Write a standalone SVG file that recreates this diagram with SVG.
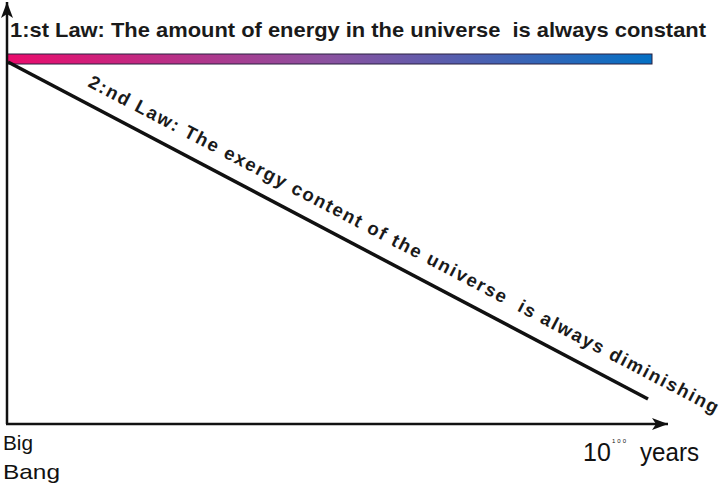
<svg xmlns="http://www.w3.org/2000/svg" width="723" height="486" viewBox="0 0 723 486">
<style>
text{white-space:pre}
.ax{stroke:#111;stroke-width:2.5;fill:none}
.law{font-family:"Liberation Sans",Arial,sans-serif;font-weight:bold;fill:#1a1a1a}
.lbl{font-family:"Liberation Sans",Arial,sans-serif;fill:#111}
</style>
<defs>
<linearGradient id="g" x1="0" y1="0" x2="1" y2="0">
<stop offset="0" stop-color="#ea0c6c"/>
<stop offset="0.5" stop-color="#8a52a0"/>
<stop offset="1" stop-color="#0470c4"/>
</linearGradient>
<marker id="ah" markerWidth="16" markerHeight="12" refX="16" refY="6" orient="auto" markerUnits="userSpaceOnUse">
<path d="M0,0 L16,6 L0,12 L4,6 Z" fill="#111"/>
</marker>
</defs>
<rect width="723" height="486" fill="#fff"/>
<g id="bar">
<rect x="7" y="54" width="645" height="10" fill="url(#g)" stroke="#2a2040" stroke-width="1"/>
</g>
<g id="connectors">
<line class="ax" x1="7" y1="424" x2="7" y2="2" marker-end="url(#ah)"/>
<line class="ax" x1="6" y1="424" x2="668" y2="424" marker-end="url(#ah)"/>
<line x1="8" y1="62" x2="648" y2="399" stroke="#111" stroke-width="3.5"/>
</g>
<g id="law1">
<text class="law" x="10" y="37" font-size="21" textLength="696" lengthAdjust="spacingAndGlyphs">1:st Law: The amount of energy in the universe  is always constant</text>
</g>
<g id="law2">
<text class="law" font-size="18.5" transform="translate(87,86) rotate(27.6)" textLength="708" lengthAdjust="spacing">2:nd Law: The exergy content of the universe  is always diminishing</text>
</g>
<g id="bigbang">
<text class="lbl" x="3" y="450" font-size="21" textLength="30" lengthAdjust="spacingAndGlyphs">Big</text>
<text class="lbl" x="3" y="479" font-size="21" textLength="57" lengthAdjust="spacingAndGlyphs">Bang</text>
</g>
<g id="years">
<text class="lbl" x="583" y="461" font-size="25">10</text>
<text class="lbl" x="612" y="443" font-size="6" letter-spacing="2">100</text>
<text class="lbl" x="640" y="461" font-size="25" textLength="59" lengthAdjust="spacingAndGlyphs">years</text>
</g>
</svg>
